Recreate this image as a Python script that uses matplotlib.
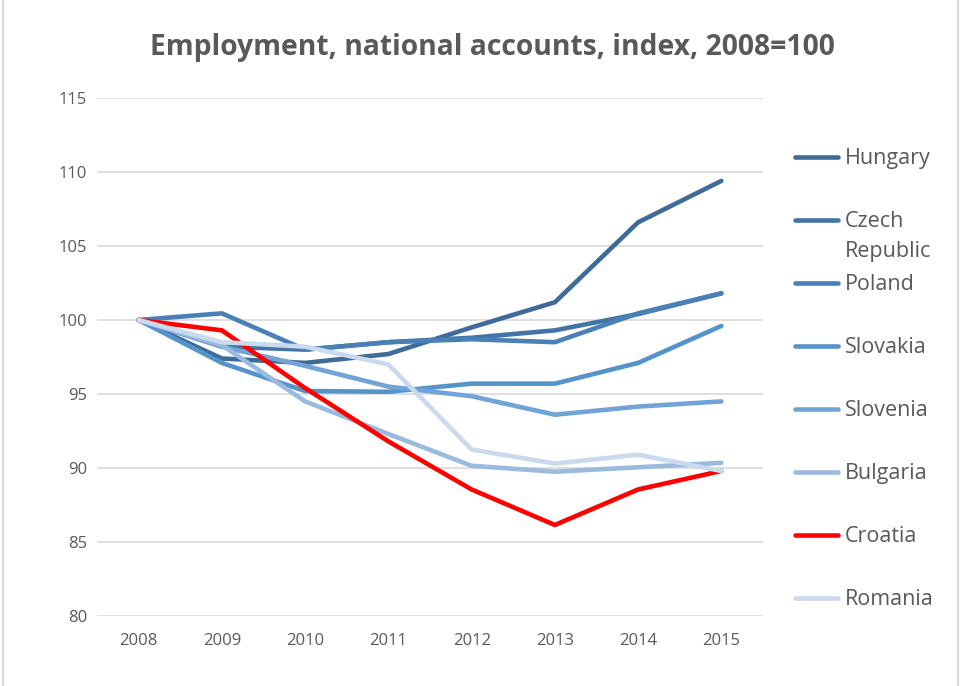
import matplotlib
matplotlib.use("Agg")
import matplotlib.pyplot as plt
from matplotlib.lines import Line2D
from matplotlib.patches import Rectangle

years = ["2008", "2009", "2010", "2011", "2012", "2013", "2014", "2015"]
countries = ["Hungary", "Czech\nRepublic", "Poland", "Slovakia", "Slovenia",
             "Bulgaria", "Croatia", "Romania"]
hungary  = [100, 97.4, 97.1, 97.7, 99.5, 101.2, 106.6, 109.4]
czech    = [100, 98.2, 98.0, 98.5, 98.8, 99.3, 100.4, 101.8]
poland   = [100, 100.45, 98.0, 98.5, 98.7, 98.5, 100.45, 101.8]
slovakia = [100, 97.1, 95.2, 95.15, 95.7, 95.7, 97.1, 99.6]
slovenia = [100, 98.2, 96.9, 95.5, 94.85, 93.6, 94.15, 94.5]
bulgaria = [100, 98.3, 94.5, 92.3, 90.15, 89.75, 90.05, 90.35]
croatia  = [100, 99.3, 95.4, 91.8, 88.55, 86.15, 88.55, 89.8]
romania  = [100, 98.5, 98.2, 97.0, 91.25, 90.3, 90.9, 89.8]
series = [hungary, czech, poland, slovakia, slovenia, bulgaria, croatia, romania]
colors = ["#3E6B99", "#4374A8", "#4A80B8", "#5593CB", "#70A4D9",
          "#9BBAE0", "#FF0000", "#C9D9EE"]
yticks = [80, 85, 90, 95, 100, 105, 110, 115]

W, H = 961, 686
fig = plt.figure(figsize=(W / 100, H / 100), dpi=100)
ax = fig.add_axes([97 / W, 1 - 616 / H, (763 - 97) / W, (616 - 98) / H])

x = list(range(len(years)))
for vals, col in zip(series, colors):
    ax.plot(x, vals, color=col, lw=3.3, solid_capstyle="round", solid_joinstyle="round", zorder=3)

ax.set_xlim(-0.5, len(years) - 0.5)
ax.set_ylim(80, 115)
ax.set_yticks(yticks)
ax.set_xticks(x)
ax.set_xticklabels(years)
ax.grid(axis="y", color="#D9D9D9", lw=1.2, zorder=0)
for s in ax.spines.values():
    s.set_visible(False)
ax.tick_params(length=0, labelsize=12, colors="#595959", pad=12)
ax.tick_params(axis="y", pad=7)
for lab in ax.get_xticklabels() + ax.get_yticklabels():
    lab.set_family("Open Sans")
    lab.set_color("#595959")

fig.text(492 / W, 1 - 47 / H, "Employment, national accounts, index, 2008=100",
         ha="center", va="center", fontsize=20.3, fontweight="bold",
         color="#595959", family="Open Sans")

# legend (manual)
ys = [157, 220, 283, 346, 409, 472, 535, 598]
for name, col, yy in zip(countries, colors, ys):
    fig.add_artist(Line2D([795 / W, 838 / W], [1 - yy / H, 1 - yy / H],
                          color=col, lw=3.3, solid_capstyle="round"))
    fig.text(845 / W, 1 - (yy - 9) / H, name, ha="left", va="top",
             fontsize=15.5, color="#595959", family="Open Sans", linespacing=1.55)

fig.add_artist(Rectangle((3 / W, -0.01), (W - 6) / W, 1.02, transform=fig.transFigure,
                         fill=False, edgecolor="#D9D9D9", lw=1.5))

fig.savefig("out.png", dpi=100)
